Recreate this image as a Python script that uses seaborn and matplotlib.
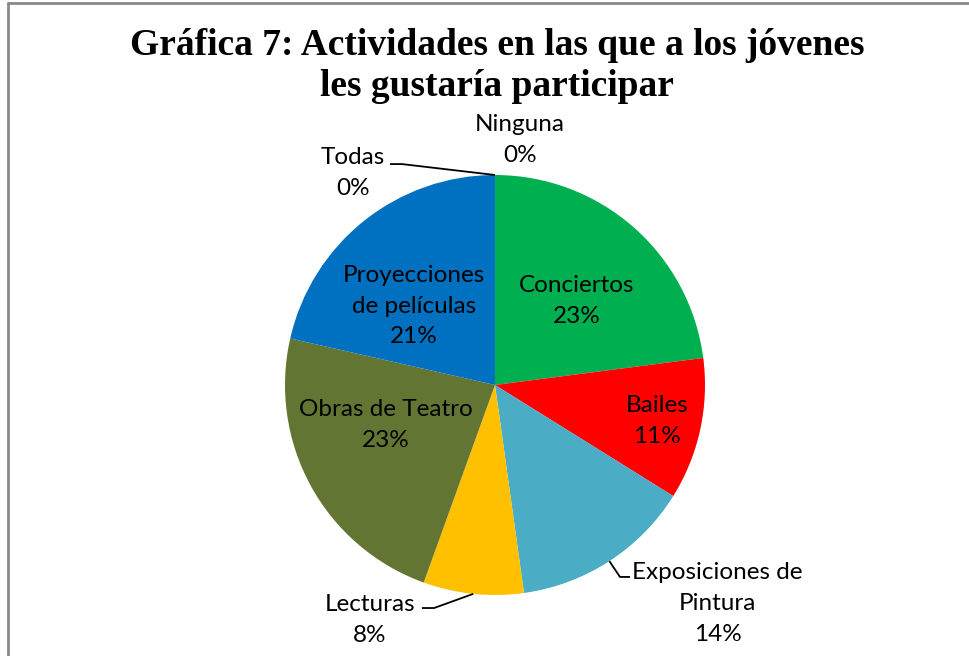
import matplotlib
matplotlib.use("Agg")
import matplotlib.pyplot as plt
import seaborn as sns
import numpy as np

sns.set_theme(style="white")
plt.rcParams['font.family'] = ['Lato', 'DejaVu Sans']
plt.rcParams['text.color'] = 'black'

categories = ["Conciertos", "Bailes", "Exposiciones de\nPintura", "Lecturas",
              "Obras de Teatro", "Proyecciones\nde películas", "Todas", "Ninguna"]
values = [22.9, 10.9, 13.9, 7.7, 23.0, 21.4, 0.0, 0.0]
colors = ["#00B050", "#FF0000", "#4BACC6", "#FFC000", "#637532", "#0070C0", "#7F7F7F", "#7F7F7F"]
title = "Gráfica 7: Actividades en las que a los jóvenes\nles gustaría participar"

# label positions (in pie radius units) and leader-line elbows (layout only)
label_pos = [(0.39, 0.40), (0.77, -0.17), (1.06, -1.04), (-0.595, -1.12),
             (-0.52, -0.19), (-0.385, 0.376), (-0.676, 1.01), (0.12, 1.167)]
leaders = {2: [(0.595, -0.914), (0.643, -0.914)],
           3: [(-0.29, -1.062), (-0.348, -1.062)],
           6: [(-0.443, 1.052), (-0.50, 1.052)]}

W, H = 969, 656
fig = plt.figure(figsize=(W / 100, H / 100), dpi=100)
fig.patch.set_facecolor("white")

cx, cy, R = 495, 385, 210
ax = fig.add_axes([(cx - R) / W, (H - cy - R) / H, 2 * R / W, 2 * R / H])
wedges, _ = ax.pie(values, colors=colors, startangle=90, counterclock=False,
                   radius=1.0, wedgeprops=dict(linewidth=0))
ax.set_xlim(-1, 1)
ax.set_ylim(-1, 1)
ax.set_aspect("equal")
ax.axis("off")

total = sum(values)
for i, (cat, v) in enumerate(zip(categories, values)):
    pct = f"{round(100 * v / total):.0f}%"
    x, y = label_pos[i]
    ax.text(x, y, f"{cat}\n{pct}", ha="center", va="center", fontsize=17.5,
            color="black", linespacing=1.58)
    if i in leaders:
        w = wedges[i]
        mid = np.deg2rad((w.theta1 + w.theta2) / 2)
        pts = [(np.cos(mid) * 1.0, np.sin(mid) * 1.0)] + leaders[i]
        xs, ys = zip(*pts)
        ax.plot(xs, ys, color="black", lw=1.3, clip_on=False, solid_capstyle="butt")

fig.text(497 / W, 1 - 66 / H, title, ha="center", va="center",
         fontsize=27, fontweight="bold", family="Liberation Serif",
         linespacing=1.2, color="black")

# frame lines (chart area border)
fig.add_artist(plt.Line2D([7.5 / W, 1], [1 - 2.5 / H, 1 - 2.5 / H], color="#898989", lw=2,
                          transform=fig.transFigure))
fig.add_artist(plt.Line2D([7.5 / W, 7.5 / W], [0, 1 - 2.5 / H], color="#898989", lw=2,
                          transform=fig.transFigure))

fig.savefig("out.png", dpi=100)
